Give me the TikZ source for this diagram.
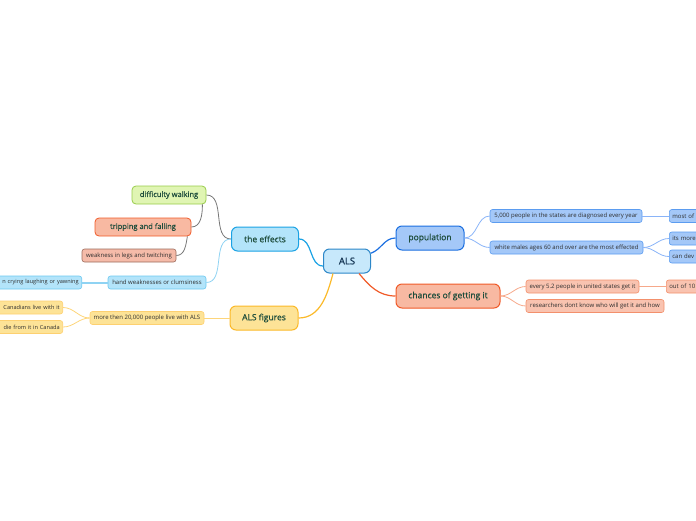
\documentclass[tikz,border=0pt]{standalone}
\usepackage{fontspec}
\setmainfont{Open Sans}
\newfontfamily\topicfont{Open Sans}[FakeBold=0.7]
\usepackage{xcolor}
\usetikzlibrary{positioning, arrows.meta, calc}
\definecolor{cTopicTxt}{HTML}{1E4D3C}
\definecolor{cRootTxt} {HTML}{10304F}
\definecolor{cSubTxt}  {HTML}{2E2E2E}
\definecolor{cRootFill}{HTML}{C7E8FB}
\definecolor{cRootLine}{HTML}{2D87C8}
\definecolor{cPopFill} {HTML}{A4C8F8}
\definecolor{cPopLine} {HTML}{1A6EE0}
\definecolor{cPopSub}  {HTML}{5B9CF0}
\definecolor{cPopLink} {HTML}{8AB4F8}
\definecolor{cChFill}  {HTML}{F8B9A2}
\definecolor{cChLine}  {HTML}{F05A28}
\definecolor{cChSub}   {HTML}{F3906C}
\definecolor{cChLink}  {HTML}{F6A88A}
\definecolor{cEfFill}  {HTML}{B3E4FA}
\definecolor{cEfLine}  {HTML}{1AA2E4}
\definecolor{cEfSub}   {HTML}{6CC8F0}
\definecolor{cEfLink}  {HTML}{8FD3F3}
\definecolor{cFgFill}  {HTML}{FDE397}
\definecolor{cFgLine}  {HTML}{FBB928}
\definecolor{cFgSub}   {HTML}{FDD070}
\definecolor{cFgLink}  {HTML}{FDD57A}
\definecolor{cWkFill}  {HTML}{E0F5B3}
\definecolor{cWkLine}  {HTML}{98CC4A}
\definecolor{cTwFill}  {HTML}{F5BBA9}
\definecolor{cTwLine}  {HTML}{9C6B5C}
\definecolor{cGrey}    {HTML}{777777}
\tikzset{
  rootbox/.style={draw=cRootLine, fill=cRootFill, rounded corners=6pt, line width=1pt,
    minimum width=47pt, minimum height=24pt, inner sep=0pt, text=cRootTxt,
    font=\topicfont\fontsize{9.5}{11}\selectfont},
  topicbox/.style={rounded corners=6pt, line width=1pt, minimum height=24pt, inner sep=0pt,
    text=cTopicTxt, font=\topicfont\fontsize{8.5}{10}\selectfont},
  effbox/.style={rounded corners=4pt, line width=0.8pt, minimum height=18pt, inner sep=0pt,
    text=cTopicTxt, font=\topicfont\fontsize{7.5}{9}\selectfont},
  subbox/.style={rounded corners=2.5pt, line width=0.6pt, minimum height=13pt, inner sep=3pt,
    text=cSubTxt, font=\fontsize{6}{7}\selectfont},
  edgebox/.style={subbox, anchor=east, text width=110pt, align=right, font=\fontsize{5.6}{7}\selectfont},
  mainlink/.style={line width=1.2pt},
  sublink/.style={line width=0.8pt},
}
\begin{document}
\begin{tikzpicture}[x=1pt, y=-1pt]
  \clip (0,0) rectangle (696,520);
  % central topic
  \node[rootbox] (als) at (347,261) {ALS};
  % main topics
  \node[topicbox, draw=cPopLine, fill=cPopFill, minimum width=68pt] (pop) at (430,238) {population};
  \node[topicbox, draw=cChLine, fill=cChFill, minimum width=104pt] (chance) at (448,296) {chances of getting it};
  \node[topicbox, draw=cEfLine, fill=cEfFill, minimum width=67pt] (effects) at (265,239) {the effects};
  \node[topicbox, draw=cFgLine, fill=cFgFill, minimum width=68pt] (figures) at (264,318) {ALS figures};
  % population branch
  \node[subbox, draw=cPopSub, fill=cPopFill, minimum width=152pt] (diag) at (566,216)
       {5,000 people in the states are diagnosed every year};
  \node[subbox, draw=cPopSub, fill=cPopFill, minimum width=153pt] (males) at (566.5,247.5)
       {white males ages 60 and over are the most effected};
  \node[subbox, draw=cPopSub, fill=cPopFill, anchor=west, text width=80pt, align=left] (most) at (669,216) {most of t};
  \node[subbox, draw=cPopSub, fill=cPopFill, anchor=west, text width=80pt, align=left] (itsmore) at (669,238.5) {its more};
  \node[subbox, draw=cPopSub, fill=cPopFill, anchor=west, text width=80pt, align=left] (candev) at (669,256.5) {can dev};
  % chances branch
  \node[subbox, draw=cChSub, fill=cChFill!85!white, minimum width=113pt] (every) at (582.5,286.5)
       {every 5.2 people in united states get it};
  \node[subbox, draw=cChSub, fill=cChFill!85!white, minimum width=138pt] (research) at (595,306)
       {researchers dont know who will get it  and how};
  \node[subbox, draw=cChSub, fill=cChFill!85!white, anchor=west, text width=80pt, align=left] (outof) at (666,286.5) {out of 10};
  % effects branch
  \node[effbox, draw=cWkLine, fill=cWkFill, minimum width=74pt] (walking) at (169,195) {difficulty walking};
  \node[effbox, draw=cChLine, fill=cChFill, minimum width=96pt] (tripping) at (143,227) {tripping and falling};
  \node[subbox, draw=cTwLine, fill=cTwFill, minimum width=94pt] (twitch) at (129,255.5) {weakness in legs and twitching};
  \node[subbox, draw=cEfSub, fill=cEfFill, minimum width=98pt] (hand) at (157,282.5) {hand weaknesses or clumsiness};
  \node[edgebox, draw=cEfSub, fill=cEfFill] (crying) at (82,282.5) {n crying laughing or yawning};
  % figures branch
  \node[subbox, draw=cFgSub, fill=cFgFill, minimum width=114pt] (live) at (147,318)
       {more then 20,000 people live with ALS};
  \node[edgebox, draw=cFgSub, fill=cFgFill] (canad) at (63,307.5) {Canadians live with it};
  \node[edgebox, draw=cFgSub, fill=cFgFill] (die) at (63,327) {die from it in Canada};
  % connectors from the central topic
  \draw[mainlink, draw=cPopLine] (als.18) to[out=20, in=180] (pop.west);
  \draw[mainlink, draw=cChLine] ($(als.south east)+(-12pt,0)$) to[out=-50, in=180] (chance.west);
  \draw[mainlink, draw=cEfLine] ($(als.west)+(0,-5pt)$) to[out=180, in=0] (effects.east);
  \draw[mainlink, draw=cFgLine] ($(als.south west)+(10pt,0)$) to[out=-105, in=0] (figures.east);
  % population connectors
  \draw[sublink, draw=cPopLink] (pop.east) to[out=0, in=180] (diag.west);
  \draw[sublink, draw=cPopLink] (pop.east) to[out=0, in=180] (males.west);
  \draw[sublink, draw=cPopLink] (diag.east) -- (most.west);
  \draw[sublink, draw=cPopLink] (males.east) to[out=0, in=180] (itsmore.west);
  \draw[sublink, draw=cPopLink] (males.east) to[out=0, in=180] (candev.west);
  % chances connectors
  \draw[sublink, draw=cChLink] (chance.east) to[out=0, in=180] (every.west);
  \draw[sublink, draw=cChLink] (chance.east) to[out=0, in=180] (research.west);
  \draw[sublink, draw=cChLink] (every.east) -- (outof.west);
  % effects connectors
  \draw[sublink, draw=cGrey] (effects.west) to[out=180, in=0] (walking.east);
  \draw[sublink, draw=cGrey] ($(walking.south east)+(-4pt,0)$) to[out=-90, in=0] (tripping.east);
  \draw[sublink, draw=cGrey] ($(tripping.south east)+(-4pt,0)$) to[out=-100, in=0] (twitch.east);
  \draw[sublink, draw=cEfLink] (effects.west) to[out=180, in=0] (hand.east);
  \draw[line width=2pt, draw=cEfLink] (hand.west) -- (crying.east);
  % figures connectors
  \draw[sublink, draw=cFgLink] (figures.west) -- (live.east);
  \draw[sublink, draw=cFgLink] (live.west) to[out=180, in=0] (canad.east);
  \draw[sublink, draw=cFgLink] (live.west) to[out=180, in=0] (die.east);
\end{tikzpicture}
\end{document}
